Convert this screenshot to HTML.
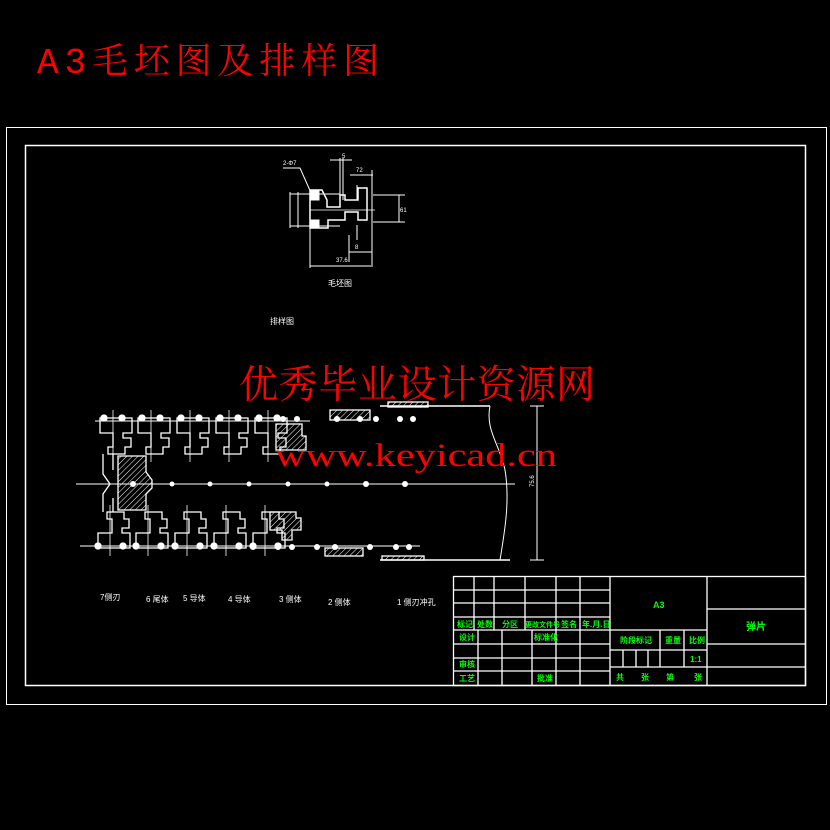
<!DOCTYPE html>
<html><head><meta charset="utf-8"><style>
html,body{margin:0;padding:0;background:#000;width:830px;height:830px;overflow:hidden}
svg{display:block}
</style></head><body>
<svg width="830" height="830" viewBox="0 0 830 830" xmlns="http://www.w3.org/2000/svg" font-family="Liberation Sans, Noto Sans CJK SC, sans-serif">
<defs>
<pattern id="h" width="4" height="4" patternUnits="userSpaceOnUse" patternTransform="rotate(45)">
<line x1="0" y1="0" x2="0" y2="4" stroke="#fff" stroke-width="1"/></pattern>
<g id="tu" fill="none" stroke="#fff" stroke-width="1.3">
<path d="M100,418 H132 V433 H123 V438 H131 V447 H125 V454 H108 V447 H113 V433 H100 Z"/>
<circle cx="104" cy="418" r="3" fill="#fff"/><circle cx="122" cy="418" r="3" fill="#fff"/>
<line x1="113" y1="410" x2="113" y2="462" stroke-width="0.8"/>
</g>
<g id="bu" fill="none" stroke="#fff" stroke-width="1.3">
<path d="M98,548 H130 V533 H122 V528 H129 V519 H124 V512 H107 V519 H112 V533 H98 Z"/>
<circle cx="98" cy="546" r="3" fill="#fff"/><circle cx="123" cy="546" r="3" fill="#fff"/>
<line x1="110" y1="505" x2="110" y2="556" stroke-width="0.8"/>
</g>
</defs>
<rect x="0" y="0" width="830" height="830" fill="#000"/>
<text x="37" y="73" fill="#f00" font-size="36" textLength="342" lengthAdjust="spacing" style="font-family:'Liberation Mono','Noto Serif CJK SC',serif">A3毛坯图及排样图</text>
<g fill="none" stroke="#fff">
<rect x="6.5" y="127.5" width="820" height="577" stroke-width="1"/>
<rect x="25.5" y="145.5" width="780" height="540" stroke-width="1.5"/>
</g>
<!-- blank drawing -->
<g fill="none" stroke="#fff" stroke-width="1">
<path d="M283,168 H300 L312,195"/>
<path d="M310,190 H322 L327,200 V207 H340 V195 H345 V200 H358 V188 H367 V220 H358 V212 H345 V220 H328 V228 H310 Z" stroke-width="1.5"/>
<line x1="290" y1="194" x2="340" y2="194"/><line x1="290" y1="226" x2="340" y2="226"/>
<line x1="290" y1="192" x2="290" y2="228"/><line x1="298" y1="192" x2="298" y2="228"/>
<line x1="310" y1="210" x2="375" y2="210" stroke-width="0.7"/>
<line x1="330" y1="160" x2="352" y2="160"/><line x1="340" y1="158" x2="340" y2="200"/><line x1="343" y1="158" x2="343" y2="200"/>
<line x1="350" y1="175" x2="373" y2="175"/><line x1="372" y1="170" x2="372" y2="265"/>
<line x1="373" y1="195" x2="405" y2="195"/><line x1="373" y1="222" x2="405" y2="222"/><line x1="399" y1="195" x2="399" y2="222"/>
<line x1="349" y1="252" x2="372" y2="252"/><line x1="349" y1="235" x2="349" y2="262"/>
<line x1="310" y1="266" x2="373" y2="266"/><line x1="310" y1="225" x2="310" y2="268"/>
<line x1="357" y1="185" x2="357" y2="200"/><line x1="357" y1="225" x2="357" y2="240"/>
<rect x="311" y="190" width="8" height="10" fill="#fff"/><rect x="311" y="220" width="8" height="8" fill="#fff"/>
</g>
<g fill="#fff" font-size="6"><text x="283" y="165">2-Φ7</text><text x="342" y="158">5</text><text x="356" y="172">72</text><text x="400" y="212">61</text><text x="336" y="262">37.6</text><text x="355" y="249">8</text></g>
<text x="328" y="286" fill="#fff" font-size="8">毛坯图</text>
<text x="270" y="324" fill="#fff" font-size="8">排样图</text>
<!-- strip -->
<g fill="none" stroke="#fff" stroke-width="1">
<line x1="76" y1="484" x2="515" y2="484"/>
<line x1="95" y1="421" x2="310" y2="421"/><line x1="80" y1="546" x2="420" y2="546"/>
<line x1="380" y1="406" x2="490" y2="406" stroke-width="1.5"/>
<line x1="380" y1="560" x2="510" y2="560" stroke-width="1.5"/>
<path d="M490,406 C485,430 500,445 505,470 C510,500 505,530 500,560"/>
<line x1="537" y1="406" x2="537" y2="560"/>
<line x1="530" y1="406" x2="544" y2="406"/><line x1="530" y1="560" x2="544" y2="560"/>
<path d="M103,454 V474 L110,484 L103,494 V512 M113,454 V470 M113,498 V512" stroke-width="1.3"/>
</g>
<use href="#tu"/><use href="#tu" x="38"/><use href="#tu" x="77"/><use href="#tu" x="116"/><use href="#tu" x="155"/>
<use href="#bu"/><use href="#bu" x="38"/><use href="#bu" x="77"/><use href="#bu" x="116"/><use href="#bu" x="155"/>
<g stroke="#fff" stroke-width="1.3">
<path d="M118,456 H146 V472 L152,480 V488 L146,494 V510 H118 Z" fill="url(#h)"/>
<path d="M276,424 H302 V436 H306 V450 H276 Z" fill="url(#h)"/>
<path d="M270,512 H296 V518 H301 V530 H292 V540 H282 V530 H270 Z" fill="url(#h)"/>
<rect x="330" y="410" width="40" height="10" fill="url(#h)"/>
<rect x="325" y="548" width="38" height="8" fill="url(#h)"/>
<rect x="388" y="402" width="40" height="5" fill="url(#h)"/>
<rect x="382" y="556" width="42" height="4" fill="url(#h)"/>
</g>
<g fill="#fff">
<circle cx="133" cy="484" r="3"/><circle cx="172" cy="484" r="2.5"/><circle cx="210" cy="484" r="2.5"/><circle cx="249" cy="484" r="2.5"/><circle cx="288" cy="484" r="2.5"/><circle cx="327" cy="484" r="2.5"/><circle cx="366" cy="484" r="3"/><circle cx="405" cy="484" r="3"/>
<circle cx="259" cy="419" r="3"/><circle cx="283" cy="419" r="3"/><circle cx="297" cy="419" r="3"/><circle cx="337" cy="419" r="3"/><circle cx="360" cy="419" r="3"/><circle cx="376" cy="419" r="3"/><circle cx="400" cy="419" r="3"/><circle cx="413" cy="419" r="3"/>
<circle cx="253" cy="547" r="3"/><circle cx="278" cy="547" r="3"/><circle cx="292" cy="547" r="3"/><circle cx="317" cy="547" r="3"/><circle cx="335" cy="547" r="3"/><circle cx="370" cy="547" r="3"/><circle cx="396" cy="547" r="3"/><circle cx="409" cy="547" r="3"/>
</g>
<text x="527" y="488" fill="#fff" font-size="6" transform="rotate(-90 530 484)">75.6</text>
<g fill="#fff" font-size="8">
<text x="100" y="600">7侧刃</text><text x="146" y="602">6 尾体</text><text x="183" y="601">5 导体</text><text x="228" y="602">4 导体</text><text x="279" y="602">3 侧体</text><text x="328" y="605">2 侧体</text><text x="397" y="605">1 侧刃冲孔</text>
</g>
<!-- watermark -->
<text x="239" y="398" fill="#f00" font-size="39" textLength="356" style="font-family:'Noto Serif CJK SC',serif">优秀毕业设计资源网</text>
<text x="275" y="466" fill="#f00" font-size="33" textLength="282" lengthAdjust="spacingAndGlyphs" style="font-family:'Liberation Serif',serif">www.keyicad.cn</text>
<!-- title block -->
<g stroke="#fff" stroke-width="1.3" fill="none">
<rect x="453.5" y="576.5" width="352" height="109"/>
<line x1="610" y1="576" x2="610" y2="686"/><line x1="707" y1="576" x2="707" y2="686"/>
<line x1="453" y1="590" x2="610" y2="590"/><line x1="453" y1="603" x2="610" y2="603"/><line x1="453" y1="617" x2="610" y2="617"/><line x1="453" y1="630" x2="610" y2="630"/>
<line x1="453" y1="644" x2="610" y2="644"/><line x1="453" y1="658" x2="610" y2="658"/><line x1="453" y1="671" x2="610" y2="671"/>
<line x1="474" y1="576" x2="474" y2="630"/><line x1="494" y1="576" x2="494" y2="630"/><line x1="525" y1="576" x2="525" y2="630"/><line x1="556" y1="576" x2="556" y2="686"/><line x1="580" y1="576" x2="580" y2="686"/>
<line x1="478" y1="630" x2="478" y2="686"/><line x1="502" y1="630" x2="502" y2="686"/><line x1="532" y1="630" x2="532" y2="686"/>
<line x1="610" y1="630" x2="707" y2="630"/><line x1="610" y1="650" x2="707" y2="650"/><line x1="610" y1="667" x2="707" y2="667"/>
<line x1="660" y1="630" x2="660" y2="667"/><line x1="684" y1="630" x2="684" y2="667"/>
<line x1="623" y1="650" x2="623" y2="667"/><line x1="636" y1="650" x2="636" y2="667"/><line x1="648" y1="650" x2="648" y2="667"/>
<line x1="707" y1="609" x2="806" y2="609"/><line x1="707" y1="644" x2="806" y2="644"/><line x1="707" y1="667" x2="806" y2="667"/>
</g>
<g fill="#0f0" font-size="8" font-weight="bold">
<text x="457" y="627">标记</text><text x="477" y="627">处数</text><text x="502" y="627">分区</text><text x="525" y="627" font-size="7">更改文件号</text><text x="561" y="627">签名</text><text x="582" y="627">年.月.日</text>
<text x="459" y="640">设计</text><text x="534" y="640">标准化</text><text x="459" y="667">审核</text><text x="459" y="681">工艺</text><text x="537" y="681">批准</text>
<text x="620" y="643">阶段标记</text><text x="665" y="643">重量</text><text x="689" y="643">比例</text><text x="690" y="662">1:1</text>
<text x="616" y="680">共</text><text x="641" y="680">张</text><text x="666" y="680">第</text><text x="694" y="680">张</text>
<text x="653" y="608" font-size="9">A3</text><text x="746" y="630" font-size="10">弹片</text>
</g>
</svg>
</body></html>
